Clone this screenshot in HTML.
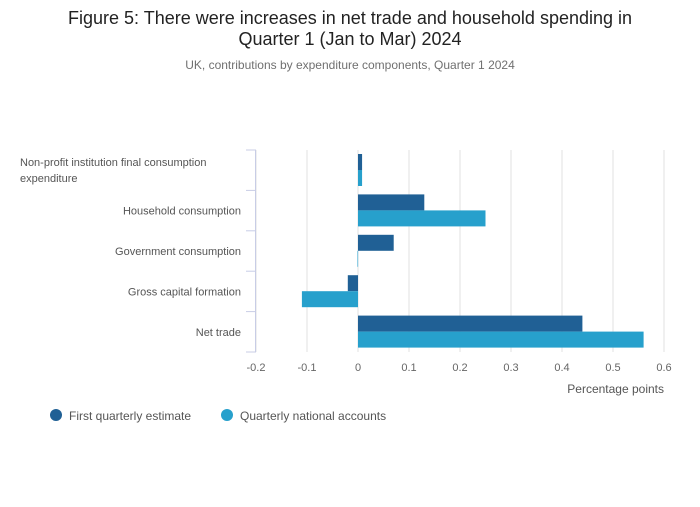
<!DOCTYPE html>
<html><head><meta charset="utf-8"><style>
body{margin:0;background:#fff;font-family:"Liberation Sans",sans-serif;}
svg text{font-family:"Liberation Sans",sans-serif;}
</style></head><body>
<svg width="700" height="502">
<text x="350" y="24" text-anchor="middle" font-size="18" fill="#222">Figure 5: There were increases in net trade and household spending in</text>
<text x="350" y="45" text-anchor="middle" font-size="18" fill="#222">Quarter 1 (Jan to Mar) 2024</text>
<text x="350" y="69" text-anchor="middle" font-size="12" fill="#707070">UK, contributions by expenditure components, Quarter 1 2024</text>
<g id="grid"></g><g id="bars"></g><g id="axis"></g>
<text x="664" y="393" text-anchor="end" font-size="12" fill="#555">Percentage points</text>
<circle cx="56" cy="415" r="6" fill="#206095"/>
<text x="69" y="420" font-size="12" fill="#555">First quarterly estimate</text>
<circle cx="227" cy="415" r="6" fill="#27a0cc"/>
<text x="240" y="420" font-size="12" fill="#555">Quarterly national accounts</text>
</svg>
<script>
const categories=[["Non-profit institution final consumption","expenditure"],["Household consumption"],["Government consumption"],["Gross capital formation"],["Net trade"]];
const firstEstimate=[0.008,0.13,0.07,-0.02,0.44];
const qna=[0.008,0.25,-0.001,-0.11,0.56];
const ticks=[-0.2,-0.1,0,0.1,0.2,0.3,0.4,0.5,0.6];
const tickLabels=["-0.2","-0.1","0","0.1","0.2","0.3","0.4","0.5","0.6"];
const NS="http://www.w3.org/2000/svg";
const x=v=>358+v*510;
const top0=150,bottom=352,band=(bottom-top0)/categories.length;
function mk(t,a,p){const e=document.createElementNS(NS,t);for(const k in a)e.setAttribute(k,a[k]);p.appendChild(e);return e;}
const g=document.getElementById('grid'),b=document.getElementById('bars'),ax=document.getElementById('axis');
ticks.forEach((t,i)=>{
 const l=mk('line',{x1:x(t),x2:x(t),y1:top0,y2:bottom,stroke:'#e2e2e2','stroke-width':1},g);
 
 
 const tx=mk('text',{x:x(t),y:371,'text-anchor':'middle','font-size':11,fill:'#666'},ax);
 tx.textContent=tickLabels[i];
 
 
});
const al=mk('line',{x1:255.5,x2:255.5,y1:top0,y2:bottom,stroke:'#c8cde6','stroke-width':1},ax);


for(let i=0;i<=categories.length;i++){
 const y=top0+i*band;
 const tk=mk('line',{x1:246,x2:256,y1:y,y2:y,stroke:'#c8cde6','stroke-width':1},ax);
 
 
}
categories.forEach((c,i)=>{
 const cy=top0+i*band+band/2;
 const y0=cy-(c.length-1)*8+4;
 c.forEach((ln,j)=>{
  const t=mk('text',{x:c.length>1?20:241,y:y0+j*16,'text-anchor':c.length>1?'start':'end','font-size':11,fill:'#555'},ax);
  t.textContent=ln;
  
  
 });
 const bt=top0+i*band+4,h=16;
 [[firstEstimate[i],'#206095',bt],[qna[i],'#27a0cc',bt+h]].forEach(([v,col,yy],k)=>{
  const x0=Math.min(x(0),x(v)),w=Math.max(Math.abs(x(v)-x(0)),0.6);
  const r=mk('rect',{x:x0,y:yy,width:w,height:h,fill:col},b);
  
  
 });
});
</script>
</body></html>
